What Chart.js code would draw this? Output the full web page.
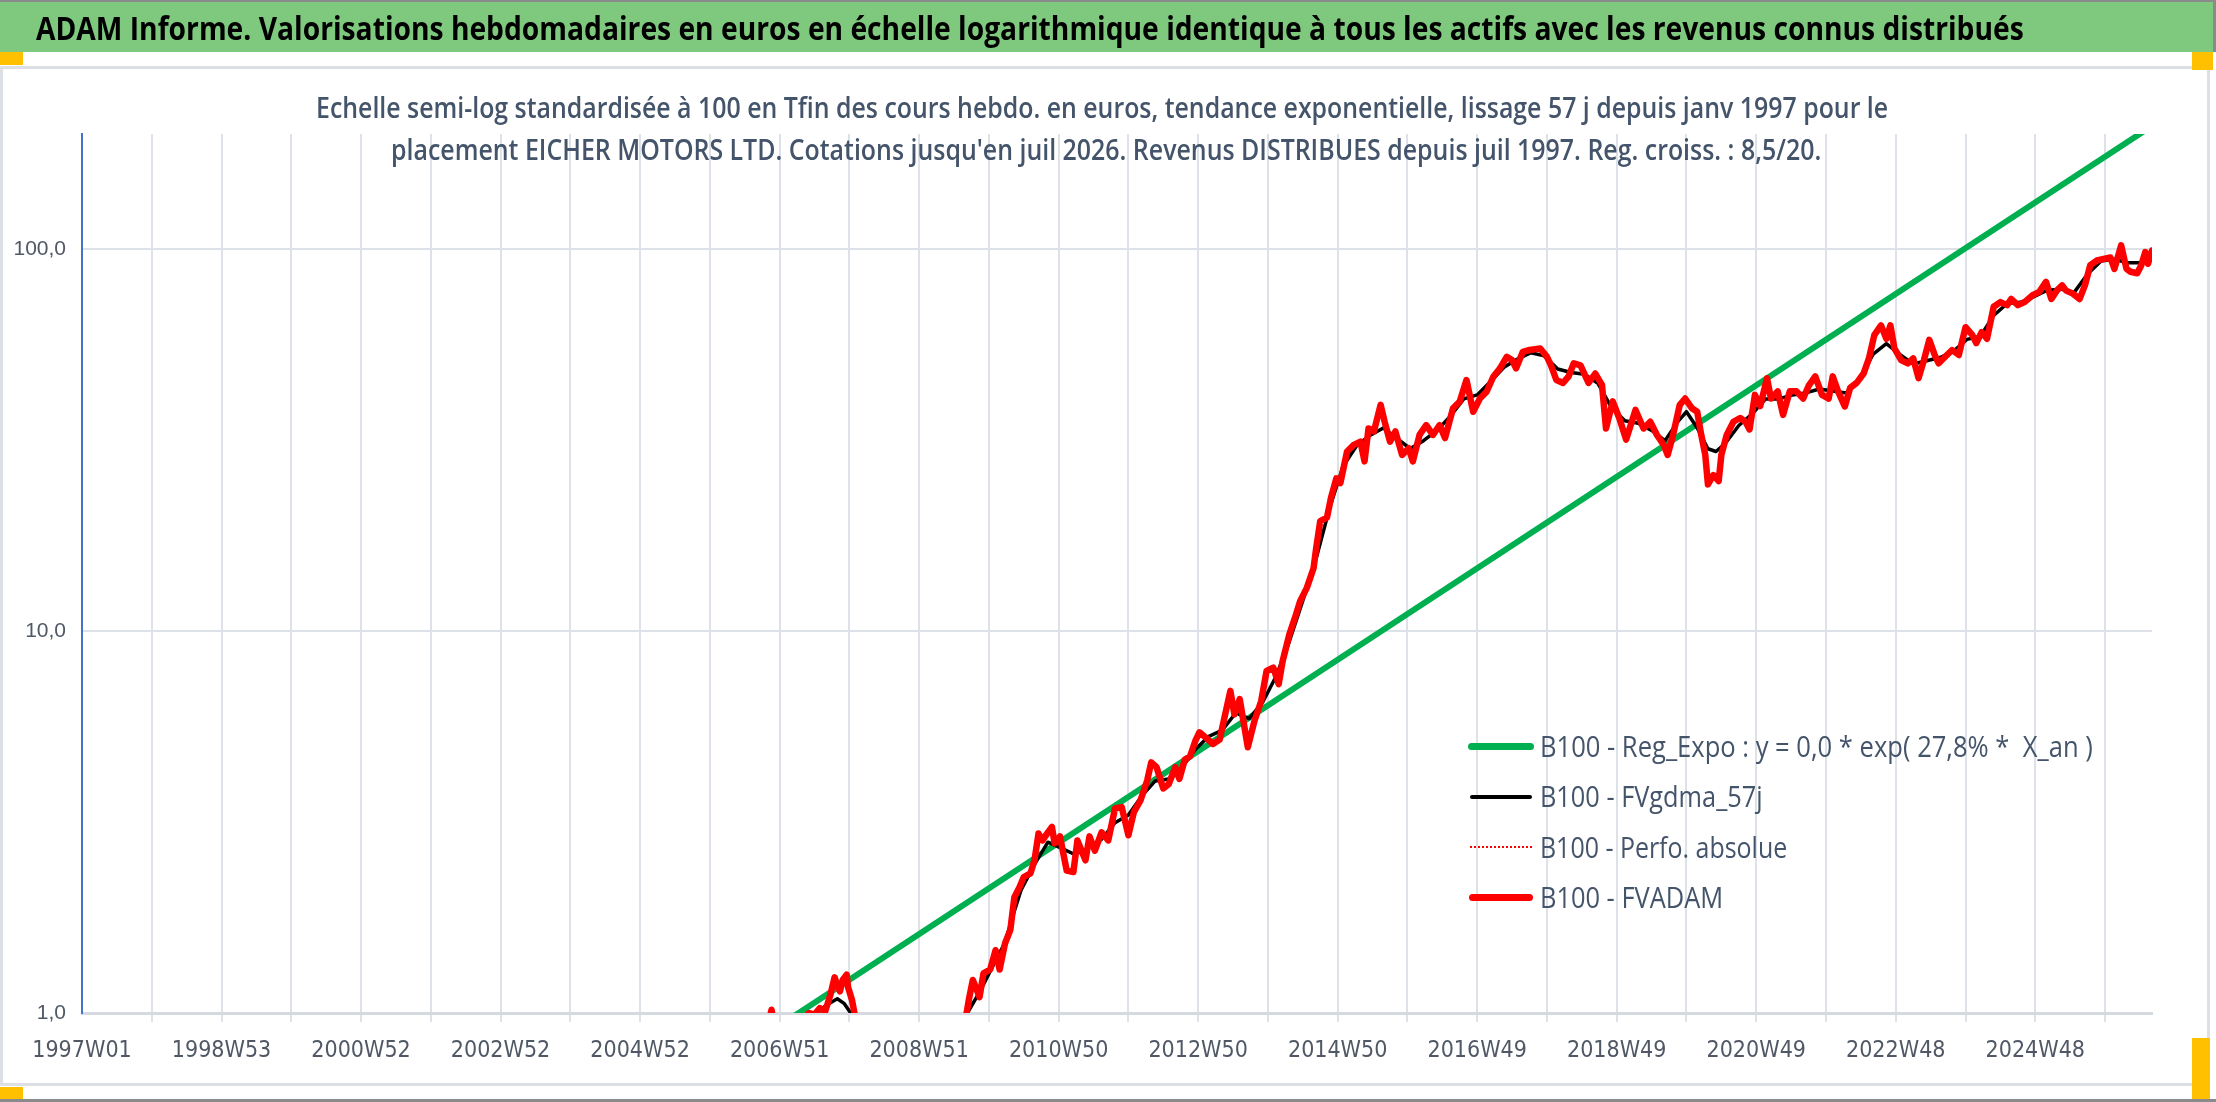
<!DOCTYPE html>
<html>
<head>
<meta charset="utf-8">
<script src="https://cdn.jsdelivr.net/npm/chart.js@4.4.1/dist/chart.umd.min.js"></script>
<style>
html,body{margin:0;padding:0;background:#fff;}
#page{position:relative;width:2216px;height:1102px;overflow:hidden;background:#fff;}
.abs{position:absolute;box-sizing:border-box;}
.txt{position:absolute;white-space:pre;transform-origin:0 0;line-height:1;}
</style>
</head>
<body>
<div id="page">
  <!-- frame decorations -->
  <div class="abs" style="left:0;top:66px;width:2210px;height:1020px;border:3px solid #dcdfe4;"></div>
  <div class="abs" style="left:0;top:0;width:2216px;height:52px;background:#7fc97f;border-top:2px solid #8a8a8a;border-right:3px solid #8a8a8a;"></div>
  <div class="abs" style="left:0;top:52px;width:23px;height:13px;background:#ffc000;"></div>
  <div class="abs" style="left:2192px;top:52px;width:21px;height:18px;background:#ffc000;"></div>
  <div class="abs" style="left:0;top:1087px;width:23px;height:13px;background:#ffc000;"></div>
  <div class="abs" style="left:2192px;top:1038px;width:18px;height:62px;background:#ffc000;"></div>
  <div class="abs" style="left:0;top:1099px;width:2216px;height:3px;background:#8a8a8a;"></div>

  <canvas id="c" width="2216" height="1102" style="position:absolute;left:0;top:0;"></canvas>

  <!-- titles -->
  <div class="txt" data-x="36" data-w="1988" data-base="40" style="font:700 32px 'Open Sans',sans-serif;color:#000;">ADAM Informe. Valorisations hebdomadaires en euros en échelle logarithmique identique à tous les actifs avec les revenus connus distribués</div>
  <div class="txt" data-cx="1102" data-w="1572" data-base="118" style="font:600 28px 'Open Sans',sans-serif;color:#44546a;">Echelle semi-log standardisée à 100 en Tfin des cours hebdo. en euros, tendance exponentielle, lissage 57 j depuis janv 1997 pour le</div>
  <div class="txt" data-cx="1106" data-w="1430" data-base="160" style="font:600 28px 'Open Sans',sans-serif;color:#44546a;">placement EICHER MOTORS LTD. Cotations jusqu'en juil 2026. Revenus DISTRIBUES depuis juil 1997. Reg. croiss. : 8,5/20.</div>

  <!-- legend -->
  <div class="abs" style="left:1468px;top:743px;width:66px;height:7px;background:#00b050;border-radius:4px;"></div>
  <div class="abs" style="left:1470px;top:795px;width:62px;height:4px;background:#000;border-radius:2px;"></div>
  <div class="abs" style="left:1470px;top:846px;width:62px;height:0;border-top:2px dotted #ff0000;"></div>
  <div class="abs" style="left:1469px;top:894px;width:64px;height:7px;background:#ff0000;border-radius:4px;"></div>
  <div class="txt" data-x="1540" data-w="553" data-base="757" style="font:400 30px 'Open Sans',sans-serif;color:#44546a;">B100 - Reg_Expo : y = 0,0 * exp( 27,8% *  X_an )</div>
  <div class="txt" data-x="1540" data-w="223" data-base="807" style="font:400 30px 'Open Sans',sans-serif;color:#44546a;">B100 - FVgdma_57j</div>
  <div class="txt" data-x="1540" data-w="247" data-base="858" style="font:400 30px 'Open Sans',sans-serif;color:#44546a;">B100 - Perfo. absolue</div>
  <div class="txt" data-x="1540" data-w="183" data-base="908" style="font:400 30px 'Open Sans',sans-serif;color:#44546a;">B100 - FVADAM</div>
</div>

<script>
// ---------- DATA (x = week index counted from 1997W01) ----------
const gridWeeks = [0,52,104,156,208,260,312,364,416,468,520,572,624,676,728,780,832,884,936,988,1040,1092,1144,1196,1248,1300,1352,1404,1456,1508];
const labelWeeks = [0,104,208,312,416,520,624,728,832,936,1040,1144,1248,1352,1456];
const tickLabels = ["1997W01","1998W53","2000W52","2002W52","2004W52","2006W51","2008W51","2010W50","2012W50","2014W50","2016W49","2018W49","2020W49","2022W48","2024W48"];
const yTicks = [1,10,100];
const yTickLabels = ["1,0","10,0","100,0"];

const trendWeeks = [480, 1543];
const trendValues = [0.75, 210];

const redWeeks = [470,490,505,512,514,516,525,535,542,546,550,554,558,561,563,565,567,570,571,574,576,580,590,610,630,645,655,659,
661,664,667,669,672,677,681,684,688,692,695,699,702,707,710,713,716,720,723,725,729,734,739,742,748,751,755,760,765,770,775,780,784,789,794,797,801,806,810,815,818,822,826,830,833,838,843,848,
856,859,863,869,874,879,883,888,892,895,900,905,908,913,918,920,923,928,931,935,938,943,948,953,956,959,963,968,971,975,979,984,989,992,997,1002,1007,1012,1016,1022,1027,1032,1037,1042,1047,1052,1057,1062,1066,1069,1074,1079,1087,1092,1095,1099,1104,1108,1112,1117,1123,1128,1133,1136,1141,1146,1151,1158,1164,1169,1174,1179,1182,1186,1191,1195,1200,1204,1207,
1210,1212,1216,1220,1222,1226,1231,1236,1240,1243,1247,1251,1256,1259,1264,1268,1273,1278,1283,1287,1292,1297,1302,1305,1309,1314,1318,1323,1328,1332,1336,1341,1345,1348,1351,1356,1361,1365,1369,1373,1377,1381,1384,1389,1394,1399,1404,1409,1412,1416,1420,1425,1430,1435,1438,1443,1448,1454,1459,1464,1468,1472,1476,1479,1484,1489,1493,1497,1502,1507,1512,1515,1520,1524,1527,1532,1535,1538,1540,1543];
const redValues = [0.75,0.8,0.85,0.95,1.02,0.92,0.88,0.95,1.0,0.99,1.03,1.01,1.12,1.24,1.18,1.14,1.22,1.26,1.17,1.08,0.99,0.9,0.7,0.55,0.5,0.6,0.85,0.98,
1.08,1.22,1.15,1.10,1.27,1.30,1.46,1.30,1.52,1.65,2.01,2.14,2.27,2.32,2.51,2.95,2.83,2.97,3.07,2.78,2.9,2.36,2.34,2.83,2.51,2.9,2.66,2.97,2.83,3.43,3.46,2.92,3.35,3.60,4.06,4.53,4.4,3.87,3.97,4.4,4.1,4.6,4.7,5.17,5.43,5.25,5.06,5.2,
6.97,6.05,6.63,4.96,5.82,6.56,7.86,8.02,7.26,8.35,9.8,11.06,11.97,12.97,14.6,16.5,19.4,19.8,22.3,25.1,24.4,29.5,30.7,31.3,27.8,33.9,33.3,39.1,35.3,31.3,33.3,28.9,30.1,27.8,32.6,34.6,32.6,34.6,32,38.3,39.9,45.4,37.5,40.6,42.3,46.3,48.7,52.2,51.2,48.7,53.8,54.4,54.9,52.2,49.6,45.4,44.6,46.3,50.2,49.6,44.6,47.2,44.1,33.9,39.9,36,31.7,37.9,33.9,35.3,32.6,30.7,28.9,32.6,39.1,40.6,38.3,37.5,32.6,
28.9,24.2,25.6,24.7,28.9,32.6,35.3,36.1,35.3,33.7,41.5,38.8,45.9,40.6,42.4,36.8,42.4,42.4,40.6,43.8,46.4,41.5,40.6,46.4,42.4,38.7,43.3,44.7,47.2,51.7,59.5,63.1,58.2,63.1,54.9,51.2,50.2,51.7,45.9,51.2,57.8,52.8,50.2,52.3,54.4,52.8,62.4,59.6,56.7,60.6,58.2,70.6,72.6,71.3,74,71.3,72.6,75.7,77.2,82,74,77.8,80.3,77.8,76.4,74,80.3,90.7,93.3,94.2,95,88.7,102.2,88.7,87.2,86.4,90.7,98.2,91.5,99];

const blackWeeks = [540,548,555,563,568,573,580,600,630,650,660,670,680,688,695,700,710,720,730,740,750,760,770,780,790,800,810,820,830,840,850,860,870,880,890,900,910,920,930,940,950,960,970,980,990,1000,1010,1020,1030,1040,1050,1060,1070,1080,1090,1100,1110,1120,1130,1140,1150,1160,1170,1180,1190,1196,1204,1212,1218,1225,1235,1245,1255,1265,1275,1285,1295,1305,1315,1325,1335,1345,1355,1365,1375,1385,1395,1405,1415,1425,1435,1445,1455,1465,1475,1485,1495,1505,1515,1525,1535,1543];
const blackValues = [0.97,1.0,1.05,1.09,1.06,1.0,0.9,0.65,0.52,0.8,1.0,1.15,1.35,1.53,1.85,2.1,2.45,2.8,2.7,2.6,2.7,2.85,3.15,3.3,3.7,4.05,4.1,4.4,4.9,5.3,5.5,6.1,5.9,6.5,7.6,9.4,12.0,15.5,21,27,30.5,32.5,34,32,30,31.5,33.5,36.5,40.5,41.5,45,49,51.5,53.5,52.5,48.5,47.5,47,44.5,38.5,35.5,35,33.5,31.5,35.5,37.5,34,30,29.5,31,34.5,37,40.5,40.5,41.5,42,43,42.5,42,45.5,53,56.5,53,50,51,52,54,58,59,67,72,72.5,75,78,78.5,77,86,93,94,92,92,95];

// ---------- text fitting ----------
document.querySelectorAll('.txt').forEach(el => {
  const mk = document.createElement('span');
  mk.style.cssText = 'display:inline-block;width:0;height:0;vertical-align:baseline;';
  el.appendChild(mk);
  const base = mk.offsetTop;
  const w0 = el.offsetWidth;
  const w = parseFloat(el.dataset.w);
  const s = w / w0;
  let left = el.dataset.x !== undefined ? parseFloat(el.dataset.x) : parseFloat(el.dataset.cx) - w / 2;
  el.style.left = left + 'px';
  el.style.top = (parseFloat(el.dataset.base) - base) + 'px';
  el.style.transform = 'scaleX(' + s + ')';
});

// ---------- chart ----------
const toXY = (xs, ys) => xs.map((x, i) => ({x: x, y: ys[i]}));
const tickColor = '#505866';
new Chart(document.getElementById('c').getContext('2d'), {
  type: 'line',
  data: {
    datasets: [
      {label: 'B100 - Reg_Expo : y = 0,0 * exp( 27,8% *  X_an )', data: toXY(trendWeeks, trendValues), borderColor: '#00b050', borderWidth: 6, order: 3, clip: 0},
      {label: 'B100 - FVgdma_57j', data: toXY(blackWeeks, blackValues), borderColor: '#000000', borderWidth: 3.5, order: 2, clip: 0},
      {label: 'B100 - Perfo. absolue', data: toXY(redWeeks, redValues), borderColor: '#ff0000', borderWidth: 2, borderDash: [2, 3], order: 1, clip: 0},
      {label: 'B100 - FVADAM', data: toXY(redWeeks, redValues), borderColor: '#ff0000', borderWidth: 6.5, order: 0, clip: 0}
    ]
  },
  options: {
    responsive: false,
    animation: false,
    devicePixelRatio: 1,
    layout: {padding: {left: 0, right: 64, top: 134, bottom: 19}},
    plugins: {legend: {display: false}, tooltip: {enabled: false}, title: {display: false}},
    elements: {point: {radius: 0}, line: {tension: 0, borderJoinStyle: 'round', borderCapStyle: 'round', fill: false}},
    scales: {
      x: {
        type: 'linear', min: 0, max: 1543,
        afterFit(s) { s.height = 70; },
        afterBuildTicks(s) { s.ticks = gridWeeks.map(v => ({value: v})); },
        ticks: {
          autoSkip: false, maxRotation: 0, minRotation: 0, padding: 15, color: tickColor,
          font: {family: "'Liberation Sans Narrow','DejaVu Sans Condensed',sans-serif", size: 23},
          callback: (v) => { const i = labelWeeks.indexOf(v); return i >= 0 ? tickLabels[i] : ''; }
        },
        grid: {color: (c) => (c.tick && c.tick.value === 0) ? 'rgba(0,0,0,0)' : '#dde1e8', lineWidth: 2, tickLength: 9, drawTicks: true},
        border: {display: true, color: '#d5d9e0', width: 3}
      },
      y: {
        type: 'logarithmic', min: 1, max: 200,
        afterFit(s) { s.width = 82; },
        afterBuildTicks(s) { s.ticks = yTicks.map(v => ({value: v})); },
        ticks: {
          padding: 16, color: tickColor,
          font: {family: "'Liberation Sans',sans-serif", size: 21},
          callback: (v) => { const i = yTicks.indexOf(v); return i >= 0 ? yTickLabels[i] : ''; }
        },
        grid: {color: '#dde1e8', lineWidth: 2, drawTicks: false},
        border: {display: true, color: '#4472c4', width: 2}
      }
    }
  }
});
</script>
</body>
</html>
